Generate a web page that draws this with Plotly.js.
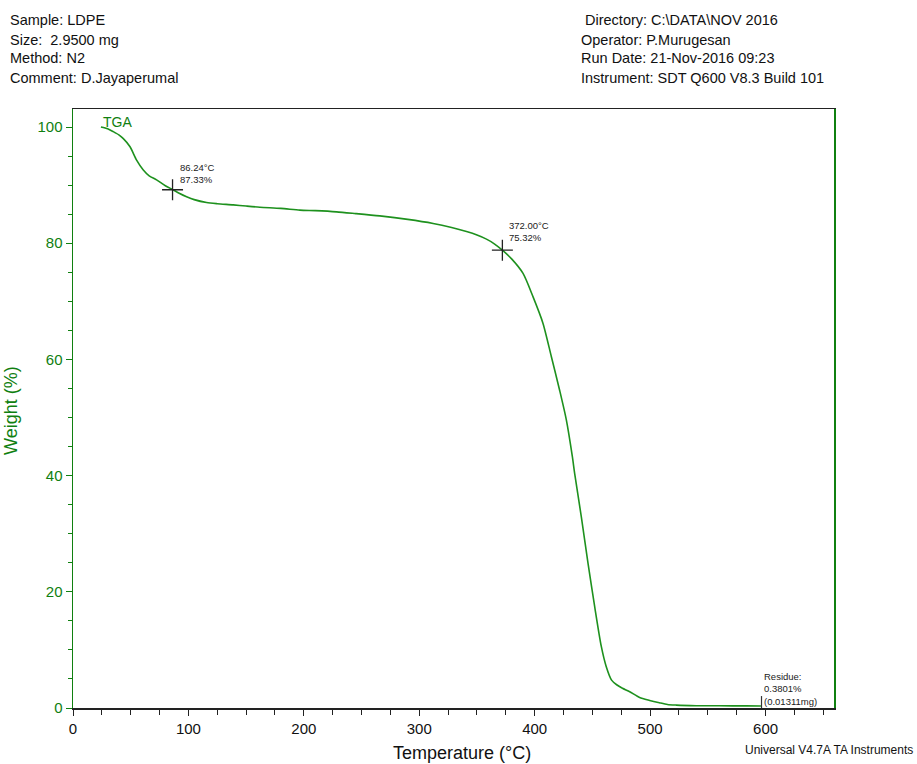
<!DOCTYPE html>
<html>
<head>
<meta charset="utf-8">
<script src="https://cdn.plot.ly/plotly-3.0.1.min.js"></script>
<style>html,body{margin:0;padding:0;background:#fff;}#chart{width:917px;height:764px;}</style>
</head>
<body>
<div id="chart"></div>
<script>
// ---- data ----
var temperature = [24.2, 30, 34.9, 40, 43.6, 49.4, 55.1, 60.9, 66, 72.4, 80, 86.6, 92, 98.4, 105, 115.7, 125, 138.8, 150, 161.9, 180, 196.5, 210, 228.3, 245, 265.8, 290, 312, 328, 340.9, 350, 358.2, 365, 372, 380, 389.9, 398.5, 407.2, 414.4, 421.6, 427.4, 432.6, 434.6, 440.4, 446.2, 452.0, 457.7, 462.0, 466.6, 471, 476, 482.3, 490.9, 499.6, 508, 515, 522.7, 540, 560, 583.3, 596];
var weight = [100.0, 99.7, 99.2, 98.6, 98.0, 96.6, 94.3, 92.6, 91.6, 90.9, 89.9, 89.2, 88.6, 88.0, 87.5, 87.0, 86.8, 86.6, 86.4, 86.2, 86.0, 85.7, 85.6, 85.4, 85.1, 84.7, 84.1, 83.4, 82.7, 82.0, 81.4, 80.7, 79.9, 78.8, 77.3, 74.8, 70.8, 66.2, 60.5, 54.7, 49.6, 43.3, 40.4, 32.9, 24.9, 17.4, 10.6, 7.1, 4.8, 4.0, 3.4, 2.8, 1.8, 1.3, 0.9, 0.6, 0.5, 0.4, 0.38, 0.36, 0.35];

var markerTemp = [86.24, 372.00];
var markerWeight = [89.2, 78.8];
var markerLabels = ["86.24°C<br>87.33%", "372.00°C<br>75.32%"];

var residueTemp = [596.5];
var residueWeight = [0.85];
var residueLabel = "Residue:<br>0.3801%<br>(0.01311mg)";

var headerLeft = ["Sample: LDPE", "Size:\u00a0\u00a02.9500 mg", "Method: N2", "Comment: D.Jayaperumal"];
var headerRight = ["\u00a0Directory: C:\\DATA\\NOV 2016", "Operator: P.Murugesan", "Run Date: 21-Nov-2016 09:23", "Instrument: SDT Q600 V8.3 Build 101"];

var xTitle = "Temperature (°C)";
var yTitle = "Weight (%)";
var curveName = "TGA";
var footer = "Universal V4.7A TA Instruments";

// ---- layout helpers (pixel -> paper) ----
var L = 73, R = 834, T = 109, B = 708;
function px(x) { return (x - L) / (R - L); }
function py(y) { return (B - y) / (B - T); }

var GREEN = 'rgb(16,128,16)';
var CURVE = 'rgb(30,145,30)';
var FONT = 'Liberation Sans, Arial, sans-serif';

var traces = [
  {x: temperature, y: weight, type: 'scatter', mode: 'lines',
   line: {color: CURVE, width: 1.6, shape: 'spline', smoothing: 0.7}, hoverinfo: 'skip'},
  {x: markerTemp, y: markerWeight, type: 'scatter', mode: 'markers',
   marker: {symbol: 'cross-thin', size: 15, line: {color: '#222', width: 1.3}}},
  {x: residueTemp, y: residueWeight, type: 'scatter', mode: 'markers',
   marker: {symbol: 'line-ns', size: 10, line: {color: '#333', width: 1.2}}}
];

var ann = [];
var hy = [20.5, 39.5, 58.5, 77.5];
headerLeft.forEach(function (t, i) {
  ann.push({text: t, xref: 'paper', yref: 'paper', x: px(8), y: py(hy[i]), xanchor: 'left', yanchor: 'middle',
            showarrow: false, font: {family: FONT, size: 14.5, color: '#111'}});
});
headerRight.forEach(function (t, i) {
  ann.push({text: t, xref: 'paper', yref: 'paper', x: px(579), y: py(hy[i]), xanchor: 'left', yanchor: 'middle',
            showarrow: false, font: {family: FONT, size: 14.5, color: '#111'}});
});
// marker labels
var lblPos = [[91.0, 92.0], [375.6, 82.1]];
markerLabels.forEach(function (t, i) {
  ann.push({text: t, x: lblPos[i][0], y: lblPos[i][1], xref: 'x', yref: 'y', xanchor: 'left', yanchor: 'middle',
            align: 'left', showarrow: false, font: {family: FONT, size: 9.5, color: '#222'}});
});
ann.push({text: residueLabel, x: 596.8, y: 3.2, xref: 'x', yref: 'y', xanchor: 'left', yanchor: 'middle',
          align: 'left', showarrow: false, font: {family: FONT, size: 9.5, color: '#222'}});
// curve label
ann.push({text: curveName, x: px(101), y: py(121.5), xref: 'paper', yref: 'paper', xanchor: 'left', yanchor: 'middle',
          showarrow: false, font: {family: FONT, size: 14, color: GREEN}});
// axis titles
ann.push({text: xTitle, x: px(462), y: py(753), xref: 'paper', yref: 'paper', xanchor: 'center', yanchor: 'middle',
          showarrow: false, font: {family: FONT, size: 18, color: '#111'}});
ann.push({text: yTitle, x: px(11), y: py(411), xref: 'paper', yref: 'paper', xanchor: 'center', yanchor: 'middle',
          textangle: -90, showarrow: false, font: {family: FONT, size: 18, color: GREEN}});
ann.push({text: footer, x: px(915), y: py(750), xref: 'paper', yref: 'paper', xanchor: 'right', yanchor: 'middle',
          showarrow: false, font: {family: FONT, size: 12, color: '#111'}});

var layout = {
  width: 917, height: 764,
  margin: {l: L, r: 917 - R, t: T, b: 764 - B, pad: 0},
  paper_bgcolor: '#fff', plot_bgcolor: '#fff',
  showlegend: false,
  xaxis: {
    range: [0, 659.3], showgrid: false, zeroline: false,
    showline: true, linecolor: '#222', linewidth: 1.5, mirror: true,
    ticks: 'outside', ticklen: 6, tickwidth: 1, tickcolor: '#222',
    dtick: 100, tick0: 0,
    tickfont: {family: FONT, size: 15, color: '#111'},
    minor: {dtick: 25, ticks: 'outside', ticklen: 5, tickcolor: '#222', showgrid: false}
  },
  yaxis: {
    range: [0, 103.1], showgrid: false, zeroline: false,
    showline: true, linecolor: GREEN, linewidth: 1.5, mirror: true,
    ticks: 'outside', ticklen: 6, tickwidth: 1, tickcolor: GREEN,
    dtick: 20, tick0: 0,
    tickfont: {family: FONT, size: 15, color: GREEN},
    minor: {dtick: 5, ticks: 'outside', ticklen: 4, tickcolor: GREEN, showgrid: false}
  },
  annotations: ann
};

Plotly.newPlot('chart', traces, layout, {displayModeBar: false, staticPlot: true});
</script>
</body>
</html>
